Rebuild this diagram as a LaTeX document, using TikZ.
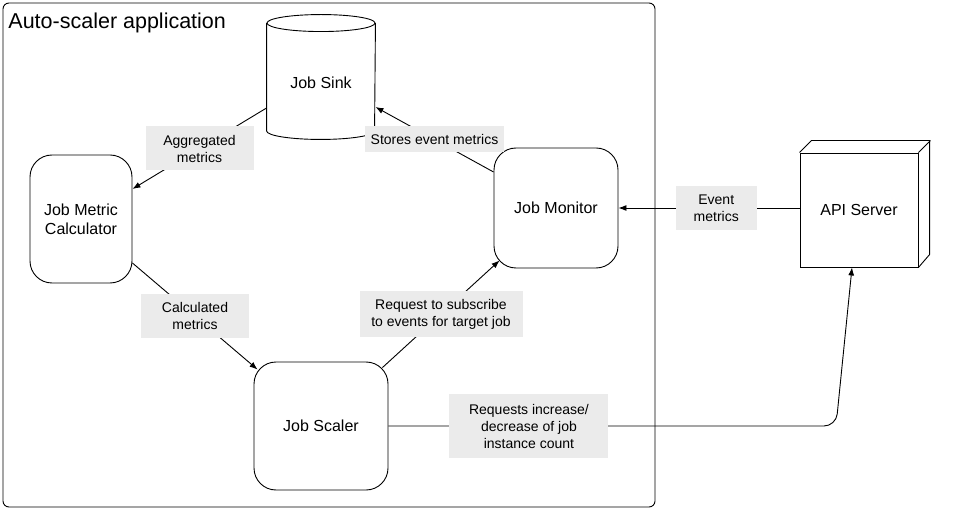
\documentclass[tikz,border=0pt]{standalone}
\usepackage{fontspec}
\setmainfont{Liberation Sans}
\usetikzlibrary{arrows.meta, calc}
\definecolor{tagfill}{RGB}{235, 235, 235}

\begin{document}
\begin{tikzpicture}[
  x=1pt, y=-1pt,
  line width=0.9pt,
  frame/.style={
    draw=black,
    rounded corners=6pt,
    minimum width=652pt,
    minimum height=504pt,
  },
  title/.style={
    font=\fontsize{21.5}{24}\selectfont,
    inner sep=0pt,
  },
  jobbox/.style={
    draw=black,
    rounded corners=22pt,
    align=center,
    font=\fontsize{16}{19}\selectfont,
  },
  sinkbody/.style={
    minimum width=108pt,
    minimum height=107pt,
    font=\fontsize{16}{19}\selectfont,
  },
  server/.style={
    draw=black,
    minimum width=118pt,
    minimum height=114pt,
    font=\fontsize{16}{19}\selectfont,
  },
  tag/.style={
    fill=tagfill,
    sharp corners,
    align=center,
    inner sep=0pt,
    font=\fontsize{14}{17}\selectfont,
  },
  flow/.style={
    draw=black,
    -{Latex[length=8pt,width=6pt]},
  }
]
  \useasboundingbox (0,0) rectangle (955,510);

  % Auto-scaler application
  \node[frame] (app) at (329,255) {};
  \node[title, anchor=base west] (app-t) at (8,29) {Auto-scaler application};

  % Job Sink
  \node[sinkbody] (sink) at (321,77) {\raisebox{-12pt}[0pt][0pt]{Job Sink}};
  \draw (sink.north) ellipse [x radius=54pt, y radius=8.5pt];
  \draw (sink.north west) -- (sink.south west)
    arc [start angle=180, end angle=360, x radius=54pt, y radius=8.5pt]
    -- (sink.north east);

  % Job Metric Calculator
  \node[jobbox, minimum width=102pt, minimum height=128pt] (calc) at (81,219) {Job Metric\\Calculator};

  % Job Monitor
  \node[jobbox, minimum width=124pt, minimum height=120pt] (monitor) at (556,208) {Job Monitor};

  % Job Scaler
  \node[jobbox, minimum width=134pt, minimum height=128pt] (scaler) at (321,426) {Job Scaler};

  % API Server
  \node[server] (api) at (859,210) {API Server};
  \draw (api.north west) -- ++(12,-12) -- ++(118,0) -- ++(0,114) -- (api.south east);
  \draw (api.north east) -- ++(12,-12);

  % connectors
  \path[flow] ($(sink.west)+(0,31)$) -- node[tag, minimum width=108pt, minimum height=44pt] (agg) {Aggregated\\metrics} ($(calc.east)+(0,-30)$);
  \path[flow] ($(monitor.west)+(0,-36)$) -- node[tag, minimum width=139pt, minimum height=26pt] (stores) {Stores event metrics} ($(sink.east)+(0,30)$);
  \path[flow] ($(calc.east)+(0,44)$) -- node[tag, minimum width=108pt, minimum height=44pt] (calcd) {Calculated\\metrics} ($(scaler.north west)+(4,8)$);
  \path[flow] ($(scaler.north east)+(-6,6)$) -- node[tag, minimum width=163pt, minimum height=46pt] (sub) {Request to subscribe\\to events for target job} ($(monitor.south west)+(6,-8)$);
  \path[flow] (api.west |- monitor.east) -- node[tag, pos=0.46, minimum width=81pt, minimum height=44pt] (evt) {Event\\metrics} (monitor.east);
  \path[flow, rounded corners=12pt] (scaler.east) -- node[tag, pos=0.314, minimum width=159pt, minimum height=64pt] (req) {Requests increase/\\decrease of job\\instance count} (836,426) -- ($(api.south)+(-7,0)$);

\end{tikzpicture}
\end{document}
